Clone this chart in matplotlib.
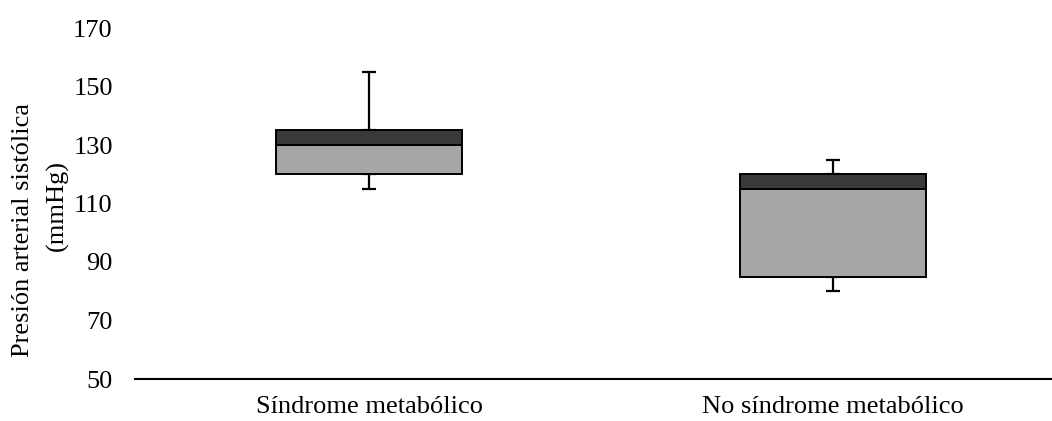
import matplotlib
matplotlib.use("Agg")
import matplotlib.pyplot as plt
import numpy as np

categories = ["Síndrome metabólico", "No síndrome metabólico"]
q1 = [120, 85]
median = [130, 115]
q3 = [135, 120]
minimum = [115, 80]
maximum = [155, 125]
yticks = [50, 70, 90, 110, 130, 150, 170]

plt.rcParams['font.family'] = ['Liberation Serif', 'DejaVu Serif']
FS = 19

fig = plt.figure(figsize=(10.52, 4.21), dpi=100)
ax = fig.add_axes([135/1052, 1 - 379/421, (1052-135)/1052, (379-28)/421])

x = np.arange(len(categories))
q1a, meda, q3a = np.array(q1), np.array(median), np.array(q3)
mina, maxa = np.array(minimum), np.array(maximum)

# whiskers
ax.errorbar(x, q3a, yerr=[np.zeros_like(q3a), maxa - q3a], fmt='none',
            ecolor='black', elinewidth=1.6, capsize=4.8, capthick=1.6, zorder=1)
ax.errorbar(x, q1a, yerr=[q1a - mina, np.zeros_like(q1a)], fmt='none',
            ecolor='black', elinewidth=1.6, capsize=4.8, capthick=1.6, zorder=1)

ax.bar(x, meda - q1a, bottom=q1a, width=0.4, color='#A6A6A6',
       edgecolor='black', linewidth=1.4, zorder=2)
ax.bar(x, q3a - meda, bottom=meda, width=0.4, color='#3B3938',
       edgecolor='black', linewidth=1.4, zorder=2)

ax.set_xlim(-0.505, 1.472)
ax.set_ylim(50, 170)
ax.set_yticks(yticks)
ax.set_xticks(x)
ax.set_xticklabels(categories, fontsize=FS)
ax.tick_params(axis='y', length=0, pad=16, labelsize=FS)
ax.tick_params(axis='x', length=0, pad=12)
for s in ['top', 'right', 'left']:
    ax.spines[s].set_visible(False)
ax.spines['bottom'].set_linewidth(1.5)

fig.text(23/1052, 1 - 230/421, "Presión arterial sistólica", rotation=90,
         ha='center', va='center', fontsize=FS)
fig.text(57/1052, 1 - 205/421, "(mmHg)", rotation=90,
         ha='center', va='center', fontsize=FS)

fig.savefig("out.png", dpi=100)
